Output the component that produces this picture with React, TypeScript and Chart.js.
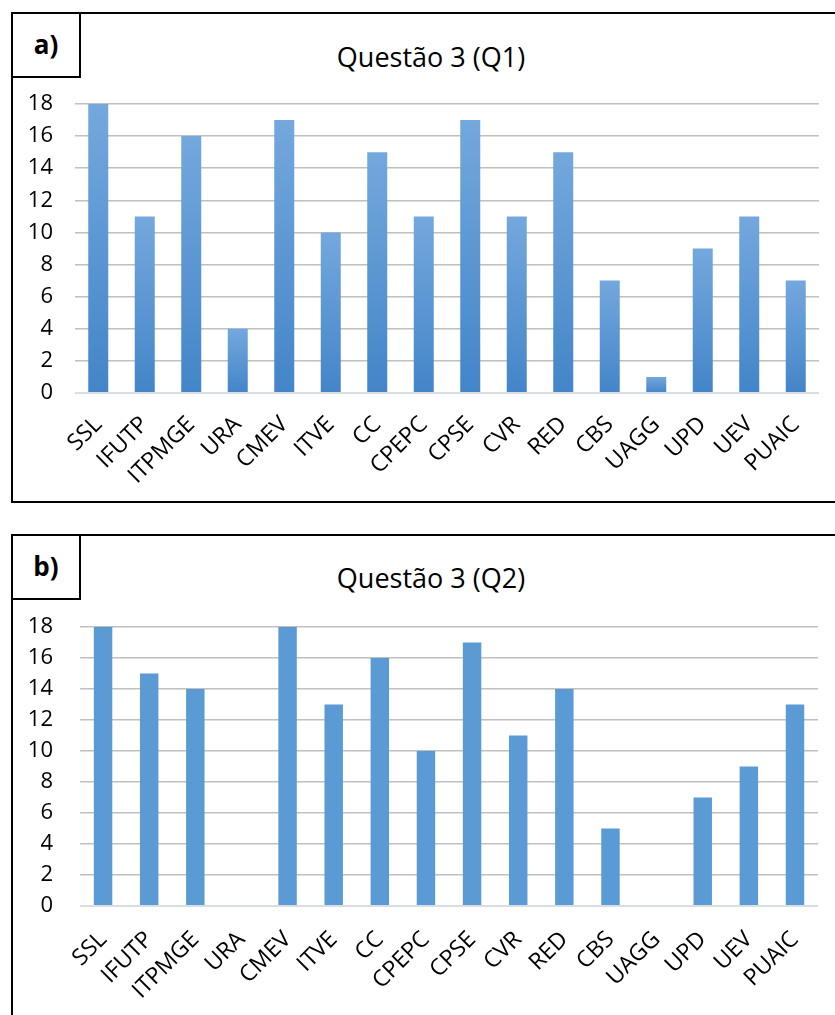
import React, { useEffect, useRef } from "react";
import { Chart, registerables } from "chart.js";

Chart.register(...registerables);

const categories = [
  "SSL", "IFUTP", "ITPMGE", "URA", "CMEV", "ITVE", "CC", "CPEPC",
  "CPSE", "CVR", "RED", "CBS", "UAGG", "UPD", "UEV", "PUAIC",
];
const q1Values = [18, 11, 16, 4, 17, 10, 15, 11, 17, 11, 15, 7, 1, 9, 11, 7];
const q2Values = [18, 15, 14, 0, 18, 13, 16, 10, 17, 11, 14, 5, 0, 7, 9, 13];
const yTickValues = [0, 2, 4, 6, 8, 10, 12, 14, 16, 18];
const titles = ["Questão 3 (Q1)", "Questão 3 (Q2)"];
const panelLabels = ["a)", "b)"];

const FONT = "'Open Sans', 'DejaVu Sans', sans-serif";

type ChartProps = {
  values: number[];
  gradient: boolean;
  yWidth: number;
  xHeight: number;
  padTop: number;
  padRight: number;
  barPct: number;
  xPad: number;
  yGap: number;
  width: number;
  height: number;
};

function BarChart(p: ChartProps) {
  const ref = useRef<HTMLCanvasElement | null>(null);
  useEffect(() => {
    if (!ref.current) return;
    const chart = new Chart(ref.current, {
      type: "bar",
      data: {
        labels: categories,
        datasets: [
          {
            data: p.values,
            backgroundColor: (ctx: any) => {
              if (!p.gradient) return "#5b9bd5";
              const c = ctx.chart;
              const ys = c.scales?.y;
              if (!ys || ctx.raw == null) return "#5b9bd5";
              const top = ys.getPixelForValue(ctx.raw);
              const base = ys.getPixelForValue(0);
              if (!isFinite(top) || !isFinite(base) || base - top < 1) return "#6aa2db";
              const g = c.ctx.createLinearGradient(0, top, 0, base);
              g.addColorStop(0, "#74a8dd");
              g.addColorStop(1, "#4385c8");
              return g;
            },
            borderWidth: 0,
            barPercentage: p.barPct,
            categoryPercentage: 1,
          },
        ],
      },
      options: {
        animation: false,
        responsive: false,
        maintainAspectRatio: false,
        layout: { padding: { top: p.padTop, right: p.padRight, left: 0, bottom: 0 } },
        plugins: {
          legend: { display: false },
          title: { display: false },
          tooltip: { enabled: false },
        },
        scales: {
          x: {
            grid: { display: false, drawTicks: false },
            border: { display: false },
            ticks: {
              minRotation: 45,
              maxRotation: 45,
              autoSkip: false,
              padding: p.xPad,
              color: "#000",
              font: { family: FONT, size: 23 },
            },
            afterFit: (s: any) => {
              s.height = p.xHeight;
            },
          },
          y: {
            min: 0,
            max: 18,
            afterBuildTicks: (s: any) => {
              s.ticks = yTickValues.map((v) => ({ value: v }));
            },
            grid: {
              drawTicks: true,
              tickLength: p.yGap,
              tickColor: "rgba(0,0,0,0)",
              color: (c: any) => (c.tick && c.tick.value === 0 ? "#d9dde4" : "#c0c0c0"),
              lineWidth: (c: any) => (c.tick && c.tick.value === 0 ? 2 : 1.6),
            },
            border: { display: false },
            ticks: {
              autoSkip: false,
              padding: 0,
              color: "#000",
              font: { family: FONT, size: 22 },
            },
            afterFit: (s: any) => {
              s.width = p.yWidth;
            },
          },
        },
      },
    } as any);
    return () => chart.destroy();
  }, []);
  return (
    <canvas
      ref={ref}
      width={p.width}
      height={p.height}
      style={{ width: p.width, height: p.height, display: "block" }}
    />
  );
}

const abs = (l: number, t: number, w: number, h: number): React.CSSProperties => ({
  position: "absolute",
  left: l,
  top: t,
  width: w,
  height: h,
  boxSizing: "border-box",
});

function Panel(props: {
  top: number;
  height: number;
  label: string;
  title: string;
  titleY: number;
  chart: React.ReactNode;
  chartTop: number;
}) {
  return (
    <>
      <div style={{ ...abs(11, props.top, 860, props.height), border: "2px solid #000" }} />
      <div
        style={{
          ...abs(11, props.top, 70, 66),
          border: "2px solid #000",
          display: "flex",
          alignItems: "center",
          justifyContent: "center",
          fontFamily: FONT,
          fontWeight: 700,
          fontSize: 26,
          lineHeight: "30px",
          color: "#000",
          paddingBottom: 2,
        }}
      >
        {props.label}
      </div>
      <div
        style={{
          position: "absolute",
          left: 0,
          width: 860,
          top: props.titleY - 20,
          height: 40,
          lineHeight: "40px",
          fontFamily: FONT,
          fontSize: 27,
          color: "#000",
        }}
      >
        <span style={{ position: "absolute", left: 431, transform: "translateX(-50%)", whiteSpace: "nowrap" }}>
          {props.title}
        </span>
      </div>
      <div style={{ position: "absolute", left: 13, top: props.chartTop }}>{props.chart}</div>
    </>
  );
}

export default function App() {
  return (
    <div
      style={{
        position: "fixed",
        left: 0,
        top: 0,
        width: 835,
        height: 1015,
        overflow: "hidden",
        background: "#fff",
      }}
    >
      <Panel
        top={12}
        height={491}
        label={panelLabels[0]}
        title={titles[0]}
        titleY={57}
        chartTop={80}
        chart={
          <BarChart
            values={q1Values}
            gradient={true}
            yWidth={62}
            xHeight={107}
            padTop={24}
            padRight={16}
            barPct={0.43}
            xPad={18}
            yGap={22}
            width={822}
            height={420}
          />
        }
      />
      <Panel
        top={534}
        height={520}
        label={panelLabels[1]}
        title={titles[1]}
        titleY={578}
        chartTop={602}
        chart={
          <BarChart
            values={q2Values}
            gradient={false}
            yWidth={67}
            xHeight={96}
            padTop={25}
            padRight={16}
            barPct={0.4}
            xPad={20}
            yGap={27}
            width={822}
            height={400}
          />
        }
      />
    </div>
  );
}
